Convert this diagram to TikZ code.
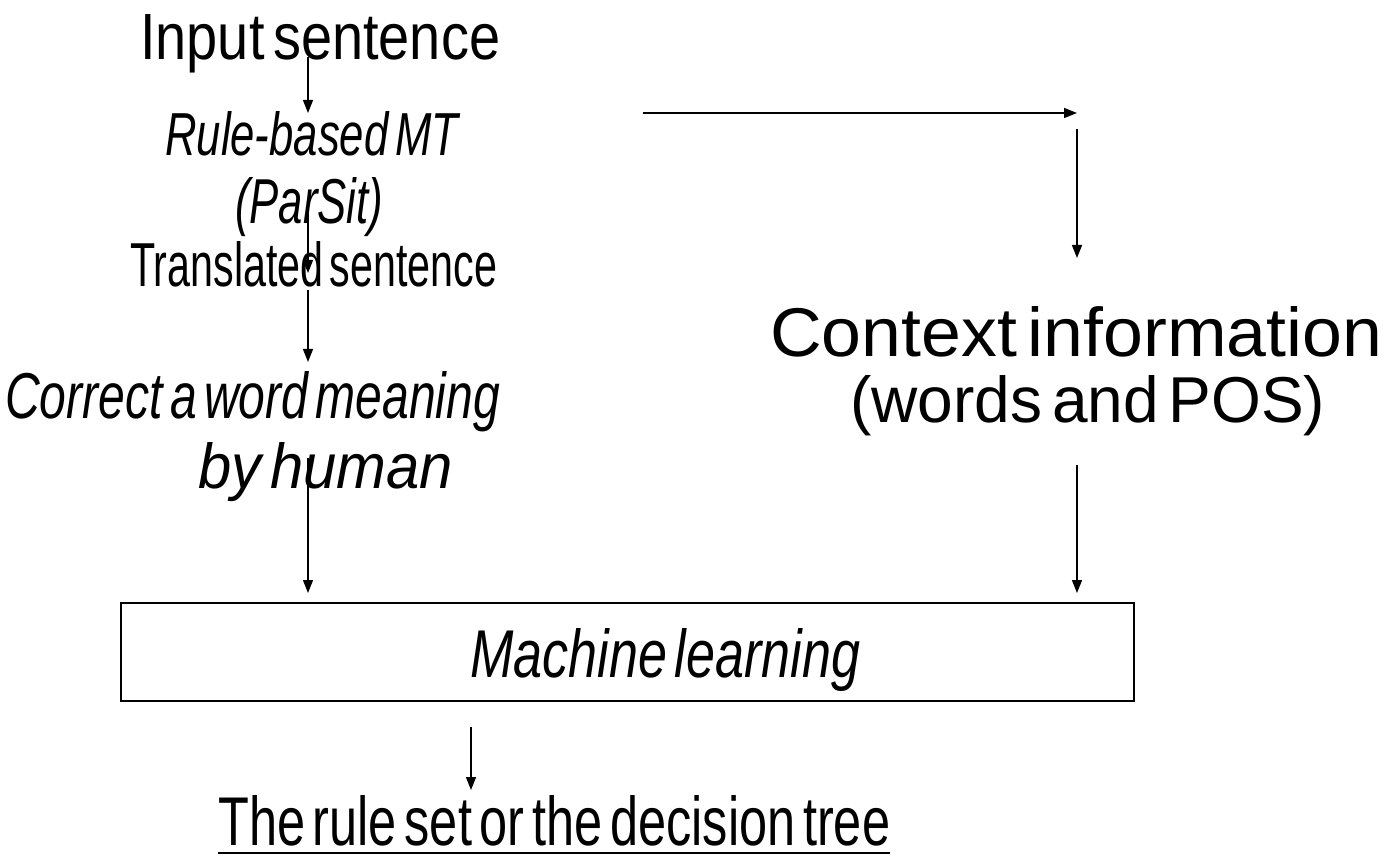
\documentclass[tikz,border=0pt]{standalone}
\usepackage{fontspec}
\setmainfont{Liberation Sans}
\newfontfamily\cond[FakeStretch=0.8,WordSpace=0.55]{Liberation Sans}
\usetikzlibrary{arrows.meta}
\newcommand\fitto[3]{\resizebox{#1pt}{#2pt}{#3}}
\tikzset{
  lbl/.style={inner sep=0pt, anchor=base west, font=\cond\fontsize{60}{66}\selectfont},
  ilbl/.style={lbl, font=\cond\itshape\fontsize{60}{66}\selectfont},
  arr/.style={line width=1.4pt, -{Triangle[length=13pt,width=10pt]}},
  box/.style={draw, line width=1.8pt, inner sep=0pt, minimum width=1013pt, minimum height=98pt}
}
\begin{document}
\begin{tikzpicture}[x=1pt,y=-1pt]
\useasboundingbox (0,0) rectangle (1386,866);
\node[lbl] (in) at (140,60) {\fitto{360}{45}{Input sentence}};
\node[ilbl] (rb) at (165,156) {\fitto{293}{44}{Rule-based MT}};
\node[ilbl] (ps) at (235,224) {\fitto{148}{46}{(ParSit)}};
\node[lbl] (ts) at (130,287) {\fitto{367}{45}{Translated sentence}};
\node[ilbl] (cw) at (5,418) {\fitto{495}{47}{Correct a word meaning}};
\node[ilbl] (bh) at (198,488) {\fitto{255}{46}{by human}};
\node[lbl] (ci) at (770,356) {\fitto{612}{50}{Context information}};
\node[lbl] (wp) at (850,422) {\fitto{475}{47}{(words and POS)}};
\node[box] (ml) at (627.5,652) {};
\node[ilbl] (mlt) at (470,677) {\fitto{390}{49}{Machine learning}};
\node[lbl] (rs) at (218,845) {\fitto{672}{50}{The rule set or the decision tree}};
\draw[line width=1.6pt] ([yshift=-8pt]rs.base west) -- ([yshift=-8pt]rs.base east);
% arrow end points
\coordinate (a1s) at (308,57);  \coordinate (a1e) at (308,113);
\coordinate (a2s) at (308,210); \coordinate (a2e) at (308,273);
\coordinate (a3s) at (308,290); \coordinate (a3e) at (308,362);
\coordinate (a4s) at (308,458); \coordinate (a4e) at (308,593);
\coordinate (h1s) at (643,113); \coordinate (h1e) at (1077,113);
\coordinate (r1s) at (1077,129); \coordinate (r1e) at (1077,258);
\coordinate (r2s) at (1077,465); \coordinate (r2e) at (1077,593);
\coordinate (b1s) at (471,727); \coordinate (b1e) at (471,790);
\draw[arr] (a1s) -- (a1e);
\draw[arr] (a2s) -- (a2e);
\draw[arr] (a3s) -- (a3e);
\draw[arr] (a4s) -- (a4e);
\draw[arr] (h1s) -- (h1e);
\draw[arr] (r1s) -- (r1e);
\draw[arr] (r2s) -- (r2e);
\draw[arr] (b1s) -- (b1e);
\end{tikzpicture}
\end{document}
